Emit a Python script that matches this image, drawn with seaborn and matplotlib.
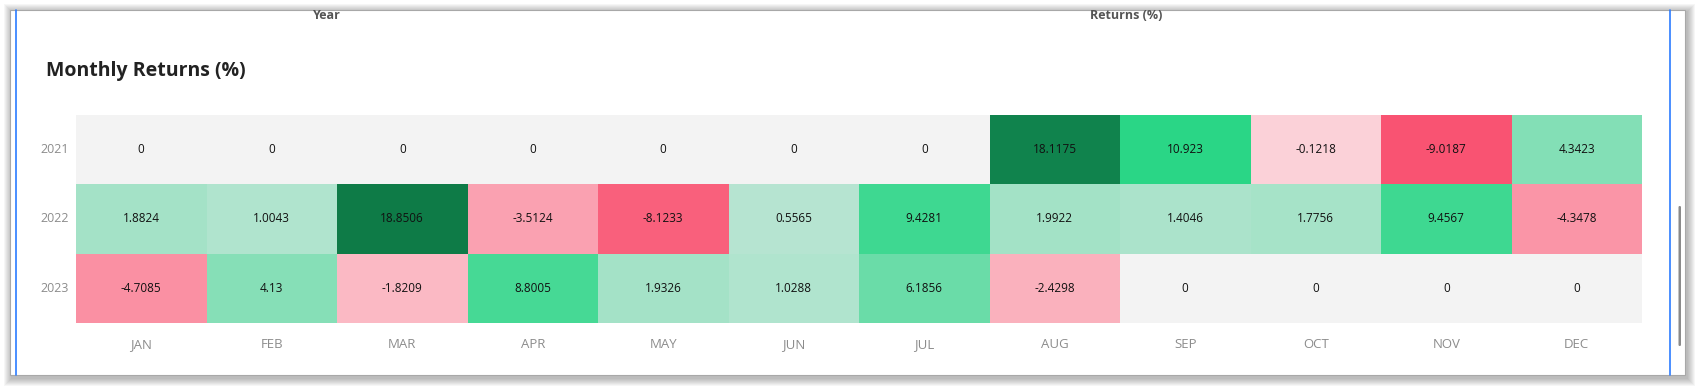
import numpy as np
import pandas as pd
import matplotlib
matplotlib.use("Agg")
import matplotlib.pyplot as plt
import seaborn as sns
from matplotlib.colors import LinearSegmentedColormap, ListedColormap, TwoSlopeNorm
from matplotlib.patches import Rectangle, FancyBboxPatch

# ---- data ----
years = ["2021", "2022", "2023"]
months = ["JAN", "FEB", "MAR", "APR", "MAY", "JUN",
          "JUL", "AUG", "SEP", "OCT", "NOV", "DEC"]
returns_2021 = [0, 0, 0, 0, 0, 0, 0, 18.1175, 10.923, -0.1218, -9.0187, 4.3423]
returns_2022 = [1.8824, 1.0043, 18.8506, -3.5124, -8.1233, 0.5565,
                9.4281, 1.9922, 1.4046, 1.7756, 9.4567, -4.3478]
returns_2023 = [-4.7085, 4.13, -1.8209, 8.8005, 1.9326, 1.0288,
                6.1856, -2.4298, 0, 0, 0, 0]
title = "Monthly Returns (%)"
header_left = "Year"
header_right = "Returns (%)"

df = pd.DataFrame([returns_2021, returns_2022, returns_2023],
                  index=years, columns=months)

sns.set_theme(style="white")
plt.rcParams["font.family"] = ["Open Sans", "DejaVu Sans"]

W, H = 1701, 392
fig = plt.figure(figsize=(W / 100, H / 100), dpi=100)
fig.patch.set_facecolor("white")

# ---- window frame (background layer, pixel coordinates) ----
bg = fig.add_axes([0, 0, 1, 1], zorder=0)
bg.set_xlim(0, W)
bg.set_ylim(H, 0)
bg.axis("off")
px0, py0, px1, py1 = 10, 10, 1685, 375
for i in range(8, 0, -1):
    bg.add_patch(Rectangle((px0 - i + 2, py0 - i + 2),
                           (px1 - px0) + 2 * i, (py1 - py0) + 2 * i + 1,
                           facecolor="black", edgecolor="none", alpha=0.035))
bg.add_patch(Rectangle((px0, py0), px1 - px0, py1 - py0,
                       facecolor="white", edgecolor="#a8a8a8", linewidth=0.8))
bg.plot([16, 16], [py0, py1], color="#2b7bff", lw=1.2)
bg.plot([1670, 1670], [py0, py1], color="#2b7bff", lw=1.2)
bg.add_patch(FancyBboxPatch((1678.5, 206), 2.5, 140,
                            boxstyle="round,pad=0,rounding_size=1.2",
                            facecolor="#8a8a8a", edgecolor="none"))
bg.text(327, 15, header_left, ha="center", va="center",
        fontsize=9, fontweight="bold", color="#555555")
bg.text(1126, 15, header_right, ha="center", va="center",
        fontsize=9, fontweight="bold", color="#555555")
bg.text(46, 76, title, ha="left", va="baseline",
        fontsize=14, fontweight="bold", color="#222222")

# ---- heatmap ----
ax = fig.add_axes([76 / W, 1 - 323 / H, (1642 - 76) / W, (323 - 115) / H],
                  zorder=1)

vmin = float(df.min().min())
vmax = float(df.max().max())
mid_pos = 0.5 + 0.5 * 10.923 / vmax
cmap = LinearSegmentedColormap.from_list(
    "ret",
    [(0.0, "#f95372"), (0.4999, "#fbd3d9"), (0.5001, "#bee5d5"),
     (mid_pos, "#2ad686"), (1.0, "#0e7b47")], N=1024)
norm = TwoSlopeNorm(vmin=vmin, vcenter=0.0, vmax=vmax)

zero = df == 0
annot_kws = dict(color="#111111", fontsize=8.5)
sns.heatmap(df, mask=~zero, cmap=ListedColormap(["#f3f3f3"]), cbar=False,
            annot=True, fmt="g", annot_kws=annot_kws, linewidths=0, ax=ax)
sns.heatmap(df, mask=zero, cmap=cmap, norm=norm, cbar=False,
            annot=True, fmt="g", annot_kws=annot_kws, linewidths=0, ax=ax)

ax.set_xlabel("")
ax.set_ylabel("")
ax.tick_params(axis="both", length=0, labelcolor="#8c8c8c")
ax.tick_params(axis="x", pad=11, labelsize=9.5)
ax.tick_params(axis="y", pad=5, labelsize=9)
plt.setp(ax.get_yticklabels(), rotation=0)
plt.setp(ax.get_xticklabels(), rotation=0)

fig.savefig("out.png", dpi=100)
